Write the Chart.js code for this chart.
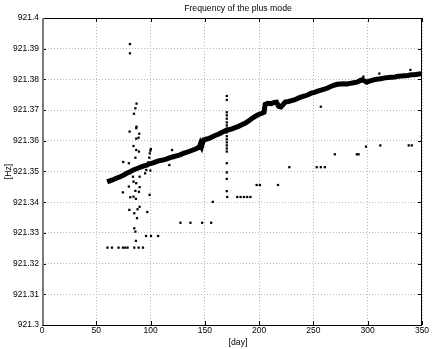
<!DOCTYPE html>
<html>
<head>
<meta charset="utf-8">
<script src="https://cdn.jsdelivr.net/npm/chart.js@4/dist/chart.umd.min.js"></script>
<style>
  html, body { margin: 0; padding: 0; background: #fff; }
  #wrap { width: 436px; height: 349px; }
</style>
</head>
<body>
<div id="wrap"><canvas id="freqChart" width="436" height="349"></canvas></div>
<script>
// values
const titleText = 'Frequency of the plus mode';
const xLabel = '[day]';
const yLabel = '[Hz]';

const xTicks = [0, 50, 100, 150, 200, 250, 300, 350];
const xTickLabels = ['0', '50', '100', '150', '200', '250', '300', '350'];
const yTicks = [921.3, 921.31, 921.32, 921.33, 921.34, 921.35, 921.36, 921.37, 921.38, 921.39, 921.4];
const yTickLabels = ['921.3', '921.31', '921.32', '921.33', '921.34', '921.35', '921.36', '921.37', '921.38', '921.39', '921.4'];

// main (dense) track
const trendDay = [60, 63, 66, 69, 72, 75, 78, 81, 84, 87, 90, 92, 94, 97, 100, 103, 106, 109, 112, 115,
  118, 121, 124, 127, 130, 133, 136, 139, 142, 145, 146, 147, 148, 149, 151, 154, 157, 160, 163, 166,
  169, 172, 175, 178, 181, 184, 187, 190, 193, 196, 199, 202, 204.5, 205.5, 208, 211, 214, 216, 218, 220,
  222, 224, 227, 230, 233, 236, 239, 242, 245, 248, 251, 254, 257, 260, 263, 266, 269, 272, 275, 278,
  281, 284, 287, 290, 293, 295, 297, 299, 301, 304, 307, 310, 313, 316, 319, 322, 325, 328, 331, 334,
  337, 340, 343, 346, 349, 350];
const trendHz = [921.3466, 921.3470, 921.3474, 921.3479, 921.3483, 921.3488, 921.3494, 921.3499, 921.3505, 921.3509,
  921.3513, 921.3516, 921.3518, 921.3522, 921.3526, 921.3529, 921.3533, 921.3536, 921.3538, 921.3541,
  921.3545, 921.3548, 921.3551, 921.3554, 921.3559, 921.3562, 921.3566, 921.3570, 921.3574, 921.3580,
  921.3590, 921.3582, 921.3594, 921.3603, 921.3605, 921.3608, 921.3613, 921.3618, 921.3622, 921.3628,
  921.3633, 921.3636, 921.3639, 921.3643, 921.3647, 921.3652, 921.3657, 921.3664, 921.3672, 921.3679,
  921.3685, 921.3689, 921.3693, 921.3718, 921.3722, 921.3721, 921.3725, 921.3726, 921.3712, 921.3710,
  921.3718, 921.3726, 921.3728, 921.3731, 921.3734, 921.3739, 921.3743, 921.3746, 921.3750, 921.3755,
  921.3758, 921.3762, 921.3765, 921.3768, 921.3772, 921.3777, 921.3781, 921.3784, 921.3785, 921.3786,
  921.3785, 921.3787, 921.3789, 921.3791, 921.3796, 921.3799, 921.3795, 921.3791, 921.3794, 921.3797,
  921.3800, 921.3801, 921.3803, 921.3805, 921.3806, 921.3807, 921.3808, 921.3810, 921.3811, 921.3812,
  921.3813, 921.3815, 921.3815, 921.3817, 921.3818, 921.3818];

// scattered single measurements
const outlierDay = [81, 81, 87.1, 86, 84.7, 80.7, 87, 86.8, 89.6, 88.9, 86.8, 84.3, 86.8, 89.3, 86, 74.8, 80,
  86.8, 89.9, 83.8, 80.7, 80, 74.5, 84.3, 86.8, 89.9, 89.3, 86, 84.3, 81.3, 86.5, 89.9, 88, 80.4, 85, 87.5,
  97, 85, 86, 86.5, 99.1, 99.8, 95, 96, 97, 98, 98.8, 99.3, 99.8, 100.3, 117.3, 119.8,
  95.8, 100.4, 106.9,
  60.3, 64.4, 70.5, 74.5, 76.7, 78.8, 85, 89, 93,
  127.5, 136.7, 147.5, 155.8, 157.3,
  170.6, 179.8, 182.9, 186, 189, 192,
  197.7, 200.7, 217.4,
  227.8, 253, 256.8, 260.5, 256.8,
  269.7, 290, 291.6, 298.4, 311.6, 337.8, 340.6, 350,
  170.2, 170.2, 170.2, 170.2, 170.2, 170.2, 170.2, 170.2, 170.2, 170.2, 170.2, 170.2, 170.2, 170.2, 170.2,
  170.2, 170.2, 170.2, 170.2,
  296, 310.7, 339.3];
const outlierHz = [921.3915, 921.3885, 921.3721, 921.3706, 921.3688, 921.3630, 921.3646, 921.3641, 921.3623,
  921.3610, 921.3607, 921.3583, 921.3570, 921.3565, 921.3545, 921.3531, 921.3527,
  921.3505, 921.3483, 921.3483, 921.3494, 921.3451, 921.3432, 921.3467, 921.3462, 921.3449, 921.3434,
  921.3437, 921.3418, 921.3416, 921.3411, 921.3385, 921.3377, 921.3375, 921.3364, 921.3348,
  921.3368, 921.3315, 921.3304, 921.3274, 921.3424, 921.3503, 921.3494, 921.3505, 921.3517, 921.3530,
  921.3545, 921.3559, 921.3568, 921.3573, 921.3521, 921.3570,
  921.3290, 921.3290, 921.3290,
  921.3252, 921.3252, 921.3252, 921.3252, 921.3252, 921.3252, 921.3252, 921.3252, 921.3252,
  921.3333, 921.3333, 921.3333, 921.3333, 921.3401,
  921.3417, 921.3417, 921.3417, 921.3417, 921.3417, 921.3417,
  921.3456, 921.3456, 921.3456,
  921.3514, 921.3514, 921.3514, 921.3514, 921.3711,
  921.3556, 921.3556, 921.3556, 921.3581, 921.3585, 921.3585, 921.3585, 921.3616,
  921.3746, 921.3733, 921.3693, 921.3683, 921.3672, 921.3660, 921.3650, 921.3640, 921.3627, 921.3615,
  921.3605, 921.3595, 921.3585, 921.3575, 921.3565, 921.3527, 921.3497, 921.3476, 921.3436,
  921.3809, 921.3819, 921.3831];

const FONT = 'Liberation Sans, Helvetica, Arial, sans-serif';

// box, inward ticks, title and x label drawn like the original figure
const framePlugin = {
    id: 'frame',
    afterDraw(chart) {
        const { ctx, chartArea: a, scales: { x, y } } = chart;
        ctx.save();
        ctx.strokeStyle = '#000';
        ctx.lineWidth = 1;
        ctx.strokeRect(a.left + 0.5, a.top + 0.5, a.right - a.left - 1, a.bottom - a.top);
        ctx.beginPath();
        xTicks.forEach(v => {
            const px = Math.round(x.getPixelForValue(v)) + 0.5;
            ctx.moveTo(px, a.top); ctx.lineTo(px, a.top + 4);
            ctx.moveTo(px, a.bottom); ctx.lineTo(px, a.bottom - 4);
        });
        yTicks.forEach(v => {
            const py = Math.round(y.getPixelForValue(v)) + 0.5;
            ctx.moveTo(a.left, py); ctx.lineTo(a.left + 4, py);
            ctx.moveTo(a.right, py); ctx.lineTo(a.right - 4, py);
        });
        ctx.stroke();
        // left axis shows as a heavier grey line
        ctx.strokeStyle = '#7a7a7a';
        ctx.lineWidth = 2;
        ctx.beginPath();
        ctx.moveTo(a.left + 1, a.top);
        ctx.lineTo(a.left + 1, a.bottom);
        ctx.stroke();

        ctx.fillStyle = '#000';
        ctx.font = '8.7px ' + FONT;
        ctx.textAlign = 'center';
        ctx.textBaseline = 'middle';
        ctx.fillText(titleText, 238, 9);
        ctx.fillText(xLabel, 238, 343);
        ctx.restore();
    }
};

const ctx = document.getElementById('freqChart').getContext('2d');
new Chart(ctx, {
    type: 'scatter',
    data: {
        datasets: [{
            label: 'track',
            data: trendDay.map((d, i) => ({ x: d, y: trendHz[i] })),
            showLine: true,
            borderColor: '#000',
            borderWidth: 5,
            pointRadius: 0,
            tension: 0
        }, {
            label: 'single',
            data: outlierDay.map((d, i) => ({ x: d, y: outlierHz[i] })),
            pointStyle: 'rect',
            pointRadius: 1.6,
            borderWidth: 0,
            backgroundColor: '#000'
        }]
    },
    options: {
        responsive: false,
        animation: false,
        layout: { padding: { top: 18, right: 14, left: 0, bottom: 0 } },
        plugins: {
            legend: { display: false },
            tooltip: { enabled: false }
        },
        scales: {
            x: {
                type: 'linear',
                min: 0,
                max: 350,
                afterFit: s => { s.height = 24; },
                afterBuildTicks: s => { s.ticks = xTicks.map(v => ({ value: v })); },
                ticks: {
                    padding: 1,
                    color: '#000',
                    font: { family: FONT, size: 8.5 },
                    maxRotation: 0,
                    callback: (v, i) => xTickLabels[i]
                },
                grid: { color: '#b8b8b8', lineWidth: 1, drawTicks: false },
                border: { display: false, dash: [1, 2] }
            },
            y: {
                type: 'linear',
                min: 921.3,
                max: 921.4,
                afterFit: s => { s.width = 42; },
                afterBuildTicks: s => { s.ticks = yTicks.map(v => ({ value: v })); },
                ticks: {
                    padding: 3,
                    color: '#000',
                    font: { family: FONT, size: 8.5 },
                    callback: (v, i) => yTickLabels[i]
                },
                grid: { color: '#b8b8b8', lineWidth: 1, drawTicks: false },
                border: { display: false, dash: [1, 2] },
                title: {
                    display: true,
                    text: yLabel,
                    color: '#000',
                    font: { family: FONT, size: 8.7 },
                    padding: { top: 3, bottom: 0 }
                }
            }
        }
    },
    plugins: [framePlugin]
});
</script>
</body>
</html>
